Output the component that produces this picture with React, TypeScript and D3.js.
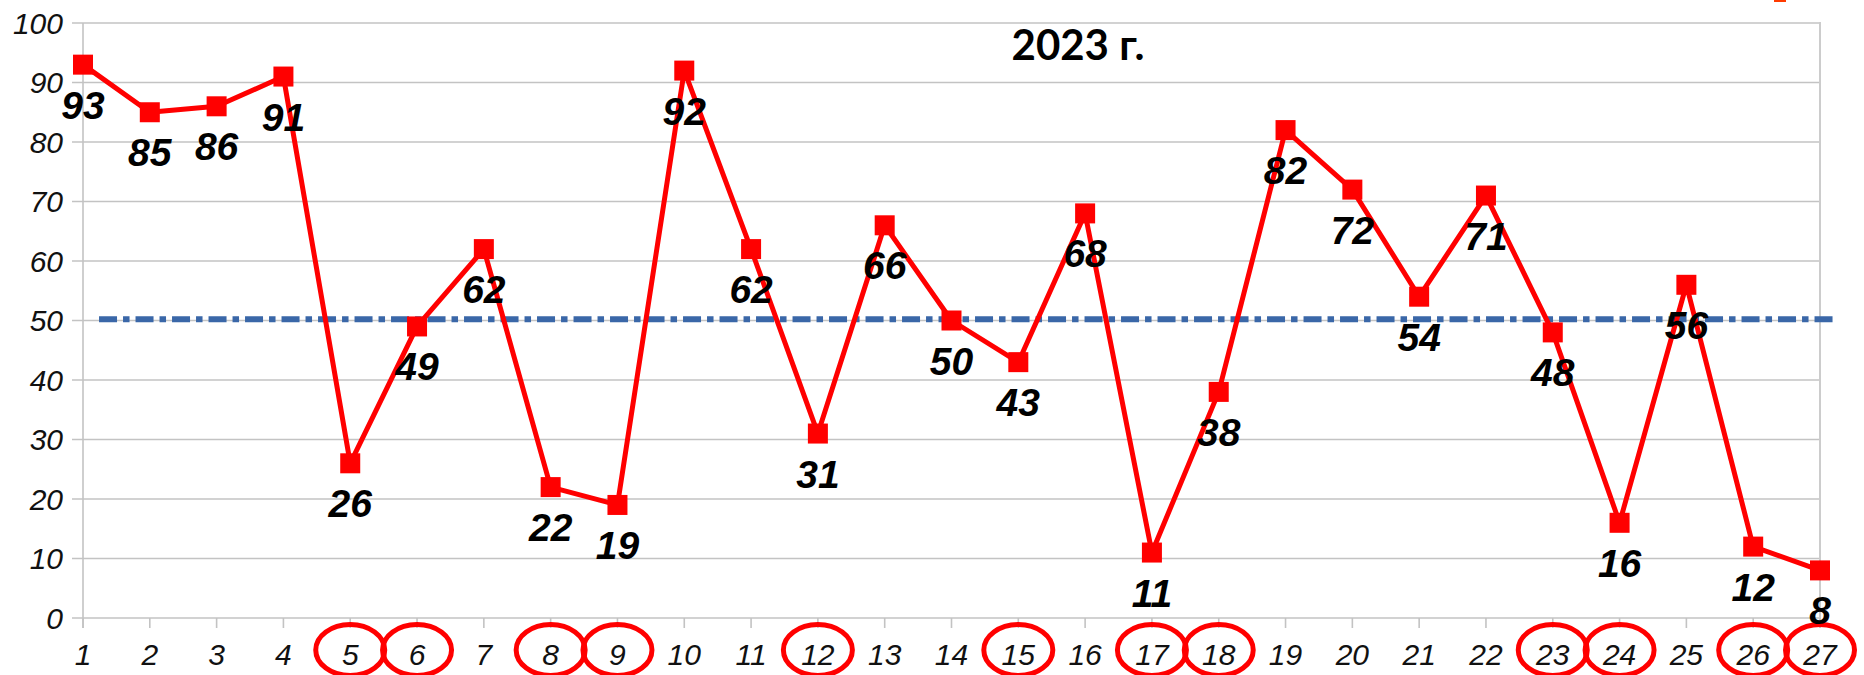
import React from "react";
import * as d3 from "d3";

const categories = [1, 2, 3, 4, 5, 6, 7, 8, 9, 10, 11, 12, 13, 14, 15, 16, 17, 18, 19, 20, 21, 22, 23, 24, 25, 26, 27];
const values = [93, 85, 86, 91, 26, 49, 62, 22, 19, 92, 62, 31, 66, 50, 43, 68, 11, 38, 82, 72, 54, 71, 48, 16, 56, 12, 8];
const circled = [5, 6, 8, 9, 12, 15, 17, 18, 23, 24, 26, 27];
const yTicks = [0, 10, 20, 30, 40, 50, 60, 70, 80, 90, 100];
const thresholdValue = 50.2;
const thresholdStart = 1.24;
const thresholdEnd = 27.27;
const title = "2023 г.";

const W = 1864;
const H = 675;

export default function App() {
  const x = d3.scaleLinear().domain([1, 27]).range([83, 1820]);
  const y = d3.scaleLinear().domain([0, 100]).range([618, 23]);
  const line = d3
    .line<number>()
    .x((_, i) => x(categories[i]))
    .y((d) => y(d));

  const tickFont = "'Liberation Sans', Arial, sans-serif";

  return (
    <svg
      width={W}
      height={H}
      style={{ position: "absolute", left: 0, top: 0, background: "#fff" }}
    >
      {/* gridlines */}
      {yTicks.map((t) => (
        <line
          key={"g" + t}
          x1={72}
          x2={x(27)}
          y1={y(t)}
          y2={y(t)}
          stroke="#c3c3c3"
          strokeWidth={1.6}
        />
      ))}
      {/* axes */}
      <line x1={x(1)} x2={x(1)} y1={y(100)} y2={y(0) + 10} stroke="#c3c3c3" strokeWidth={1.6} />
      <line x1={x(27)} x2={x(27)} y1={y(100) - 1} y2={y(0) + 10} stroke="#cccccc" strokeWidth={2} />
      {categories.map((c) => (
        <line
          key={"xt" + c}
          x1={x(c)}
          x2={x(c)}
          y1={y(0)}
          y2={y(0) + 10}
          stroke="#c3c3c3"
          strokeWidth={1.6}
        />
      ))}
      {/* y tick labels */}
      {yTicks.map((t) => (
        <text
          key={"yl" + t}
          x={63}
          y={y(t) + 10.5}
          textAnchor="end"
          fontFamily={tickFont}
          fontStyle="italic"
          fontSize={30}
          fill="#111"
        >
          {t}
        </text>
      ))}
      {/* x tick labels */}
      {categories.map((c) => (
        <text
          key={"xl" + c}
          x={x(c)}
          y={665}
          textAnchor="middle"
          fontFamily={tickFont}
          fontStyle="italic"
          fontSize={30}
          fill="#111"
        >
          {c}
        </text>
      ))}
      {/* circles */}
      {circled.map((c) => (
        <ellipse
          key={"ci" + c}
          cx={x(c)}
          cy={650}
          rx={34.5}
          ry={25.5}
          fill="none"
          stroke="#ff0000"
          strokeWidth={5}
        />
      ))}
      {/* title */}
      <text
        x={1078}
        y={60}
        textAnchor="middle"
        fontFamily="Lato, 'Open Sans', sans-serif"
        fontWeight="bold"
        fontSize={42}
        fill="#000"
      >
        {title}
      </text>
      {/* threshold */}
      <line
        x1={x(thresholdStart)}
        x2={x(thresholdEnd)}
        y1={y(thresholdValue)}
        y2={y(thresholdValue)}
        stroke="#3a67a8"
        strokeWidth={6}
        strokeDasharray="18 6 6.5 6"
      />
      {/* series */}
      <path d={line(values) || ""} fill="none" stroke="#ff0000" strokeWidth={5} strokeLinejoin="round" />
      {values.map((v, i) => (
        <rect
          key={"m" + i}
          x={x(categories[i]) - 10}
          y={y(v) - 10}
          width={20}
          height={20}
          fill="#ff0000"
        />
      ))}
      {values.map((v, i) => (
        <text
          key={"dl" + i}
          x={x(categories[i])}
          y={y(v) + 54}
          textAnchor="middle"
          fontFamily={tickFont}
          fontStyle="italic"
          fontWeight="bold"
          fontSize={39}
          fill="#000"
        >
          {v}
        </text>
      ))}
      {/* cut-off legend marker at top */}
      <rect x={1774} y={-8} width={12} height={10} fill="#ff3b00" />
    </svg>
  );
}
